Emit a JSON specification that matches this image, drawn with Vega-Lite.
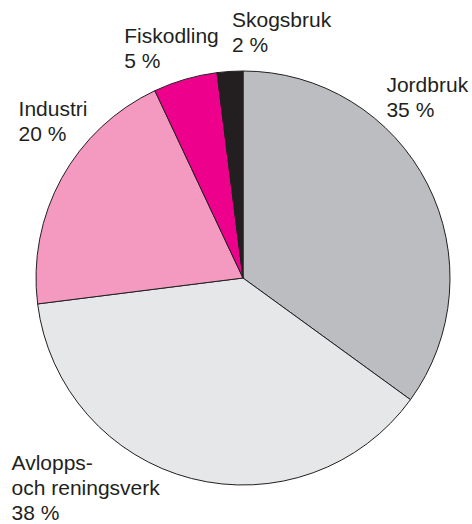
{
  "$schema": "https://vega.github.io/schema/vega-lite/v6.json",
  "width": 414,
  "height": 414,
  "autosize": {"type": "none"},
  "padding": {"left": 36, "top": 71, "right": 22, "bottom": 39},
  "background": "white",
  "view": {"stroke": null},
  "config": {"text": {"font": "Liberation Sans", "fontSize": 21, "fill": "#231f20", "align": "left", "baseline": "alphabetic", "lineBreak": "\n", "lineHeight": 25}},
  "data": {"values": [
    {"sektor": "Jordbruk", "andel": 35, "ordning": 1, "etikett": "Jordbruk\n35 %"},
    {"sektor": "Avlopps- och reningsverk", "andel": 38, "ordning": 2, "etikett": "Avlopps-\noch reningsverk\n38 %"},
    {"sektor": "Industri", "andel": 20, "ordning": 3, "etikett": "Industri\n20 %"},
    {"sektor": "Fiskodling", "andel": 5, "ordning": 4, "etikett": "Fiskodling\n5 %"},
    {"sektor": "Skogsbruk", "andel": 2, "ordning": 5, "etikett": "Skogsbruk\n2 %"}
  ]},
  "encoding": {
    "theta": {"field": "andel", "type": "quantitative", "stack": true},
    "order": {"field": "ordning", "type": "quantitative"}
  },
  "layer": [
    {
      "mark": {"type": "arc", "outerRadius": 207, "stroke": "#231f20", "strokeWidth": 1},
      "encoding": {
        "color": {"field": "sektor", "type": "nominal", "legend": null,
          "scale": {"domain": ["Jordbruk", "Avlopps- och reningsverk", "Industri", "Fiskodling", "Skogsbruk"],
                    "range": ["#bcbdc0", "#e6e7e8", "#f49ac1", "#ec008c", "#231f20"]}}
      }
    },
    {
      "mark": {"type": "text", "radius": 207, "dx": -41, "dy": -92},
      "encoding": {"text": {"condition": {"test": "datum.sektor === 'Jordbruk'", "field": "etikett"}, "value": ""}}
    },
    {
      "mark": {"type": "text", "radius": 207, "dx": -180, "dy": -8},
      "encoding": {"text": {"condition": {"test": "datum.sektor === 'Avlopps- och reningsverk'", "field": "etikett"}, "value": ""}}
    },
    {
      "mark": {"type": "text", "radius": 207, "dx": -43, "dy": -62},
      "encoding": {"text": {"condition": {"test": "datum.sektor === 'Industri'", "field": "etikett"}, "value": ""}}
    },
    {
      "mark": {"type": "text", "radius": 207, "dx": -61, "dy": -36},
      "encoding": {"text": {"condition": {"test": "datum.sektor === 'Fiskodling'", "field": "etikett"}, "value": ""}}
    },
    {
      "mark": {"type": "text", "radius": 207, "dx": 2, "dy": -44},
      "encoding": {"text": {"condition": {"test": "datum.sektor === 'Skogsbruk'", "field": "etikett"}, "value": ""}}
    }
  ]
}
